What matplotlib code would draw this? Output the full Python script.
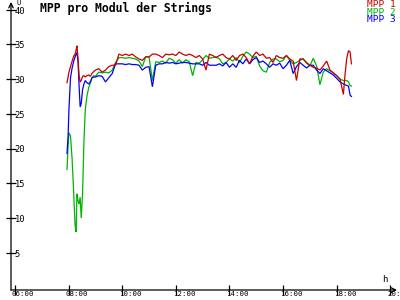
import matplotlib
matplotlib.use("Agg")
import matplotlib.pyplot as plt

# sample times in decimal hours
hours = [7.94, 7.98, 8.01, 8.07, 8.13, 8.19, 8.24, 8.28, 8.31, 8.35, 8.39,
         8.43, 8.47, 8.52, 8.57, 8.62, 8.68, 8.75, 8.81, 8.87, 8.94,
         9.0, 9.125, 9.25, 9.375, 9.5, 9.625, 9.75, 9.875,
         10.0, 10.125, 10.25, 10.375, 10.5, 10.625, 10.75, 10.875,
         11.0, 11.125, 11.25, 11.375, 11.5, 11.625, 11.75, 11.875,
         12.0, 12.125, 12.25, 12.375, 12.5, 12.625, 12.75, 12.875,
         13.0, 13.125, 13.25, 13.375, 13.5, 13.625, 13.75, 13.875,
         14.0, 14.125, 14.25, 14.375, 14.5, 14.625, 14.75, 14.875,
         15.0, 15.125, 15.25, 15.375, 15.5, 15.625, 15.75, 15.875,
         16.0, 16.125, 16.25, 16.375, 16.5, 16.625, 16.75, 16.875,
         17.0, 17.125, 17.25, 17.375, 17.5, 17.625, 17.75, 17.875,
         18.0, 18.125, 18.25, 18.31, 18.375, 18.44, 18.5, 18.55]

mpp1 = [29.5, 30.3, 31.0, 31.8, 32.6, 33.3, 33.6, 34.2, 34.8, 33.0, 30.5,
        29.6, 29.8, 30.4, 30.5, 30.3, 30.5, 30.6, 30.4, 30.8, 31.1,
        31.3, 31.5, 31.0, 31.3, 31.8, 32.0, 32.0, 33.6,
        33.4, 33.6, 33.4, 33.6, 33.2, 32.9, 32.7, 33.2,
        33.2, 33.6, 33.6, 33.4, 33.1, 33.6, 33.5, 33.6,
        33.4, 33.9, 33.6, 33.4, 33.6, 33.4, 33.1, 33.4,
        32.9, 31.3, 33.6, 33.4, 33.1, 33.4, 33.6, 33.1,
        32.9, 33.4, 32.7, 33.4, 33.6, 33.1, 32.2, 33.3,
        33.9, 33.4, 33.6, 33.0, 33.1, 32.4, 33.4, 33.1,
        33.0, 33.4, 32.9, 32.6, 29.8, 32.9, 32.9, 32.4,
        32.0, 31.7, 31.6, 31.3, 31.9, 32.6, 31.3, 30.9,
        30.5, 30.0, 27.8, 30.6, 33.0, 34.1, 33.9, 32.2]

mpp2 = [17.0, 20.5, 22.3, 21.8, 18.5, 13.5, 9.0, 8.0, 13.5, 12.5, 12.0,
        13.0, 10.0, 13.5, 21.0, 25.5, 27.5, 28.8, 29.4, 30.2, 30.5,
        30.4, 31.0, 30.9, 31.0, 30.9, 31.3, 32.4, 33.1,
        33.1, 33.0, 33.1, 33.0, 32.9, 32.6, 31.8, 33.2,
        33.2, 29.8, 32.5, 32.4, 32.6, 32.3, 33.0, 32.8,
        32.3, 32.8, 32.3, 32.8, 32.5, 30.5, 32.4, 32.3,
        32.8, 33.4, 33.0, 33.1, 33.2, 32.9, 32.2, 32.4,
        32.9, 32.6, 33.1, 32.4, 33.3, 33.9, 33.6, 33.1,
        33.3, 31.9, 31.2, 31.0, 32.4, 32.9, 32.9, 32.5,
        32.7, 33.4, 32.7, 32.2, 32.4, 32.7, 32.9, 32.3,
        31.9, 33.0, 31.9, 29.2, 31.0, 31.5, 31.2, 30.9,
        30.5, 30.0, 29.8, 29.8, 29.8, 29.6, 29.1, 29.0]

mpp3 = [19.3, 21.8, 25.5, 30.2, 31.6, 32.6, 33.2, 33.6, 33.8, 32.6, 29.0,
        26.0, 26.5, 28.5, 29.3, 29.8, 29.5, 29.3, 29.6, 30.2, 30.3,
        30.3, 30.5, 30.4, 29.6, 30.2, 30.8, 32.2, 32.2,
        32.2, 32.1, 32.2, 32.1, 32.1, 32.0, 31.3, 31.7,
        31.8, 28.9, 32.0, 32.2, 32.2, 32.4, 32.3, 32.4,
        32.2, 32.3, 32.4, 32.4, 32.3, 32.2, 32.2, 32.2,
        32.0, 32.4, 32.0, 32.0, 32.0, 32.2, 31.9, 32.4,
        31.7, 32.2, 31.7, 32.7, 32.2, 32.9, 32.2, 32.8,
        33.1, 32.4, 32.6, 32.2, 31.7, 32.2, 32.0, 32.3,
        31.5, 32.0, 32.7, 30.8, 31.8, 32.4, 32.0, 31.6,
        32.0, 32.0, 31.3, 30.8, 31.5, 31.2, 30.9, 30.6,
        30.1, 29.6, 29.3, 29.2, 29.1, 29.0, 27.7, 27.5]

series_names = ["MPP 1", "MPP 2", "MPP 3"]
series_colors = ["#c80000", "#00b400", "#0000ff"]
x_ticks = [6, 8, 10, 12, 14, 16, 18, 20]
x_tick_labels = ["06:00", "08:00", "10:00", "12:00", "14:00", "16:00", "18:00", "20:00"]
y_ticks = [5, 10, 15, 20, 25, 30, 35, 40]

mono = ["DejaVu Sans Mono"]

fig = plt.figure(figsize=(4, 3), dpi=100)
ax = fig.add_axes([11 / 400, 10 / 300, 386 / 400, 288 / 300])
ax.set_xlim(5.85, 20.25)
ax.set_ylim(-0.35, 41.1)
ax.axis("off")

# data lines (green, blue, then red on top)
for values, col in [(mpp2, series_colors[1]), (mpp3, series_colors[2]), (mpp1, series_colors[0])]:
    ax.plot(hours, values, color=col, lw=0.9, solid_joinstyle="miter")

# axes with arrows
ax.annotate("", xy=(1, 0), xytext=(0, 0), xycoords="axes fraction",
            arrowprops=dict(arrowstyle="->", lw=0.9, color="black", shrinkA=0, shrinkB=0,
                            mutation_scale=8))
ax.annotate("", xy=(0, 1), xytext=(0, 0), xycoords="axes fraction",
            arrowprops=dict(arrowstyle="->", lw=0.9, color="black", shrinkA=0, shrinkB=0,
                            mutation_scale=8))

x0 = ax.get_xlim()[0]
y0 = ax.get_ylim()[0]
for t, lab in zip(x_ticks, x_tick_labels):
    ax.plot([t], [y0], marker="|", ms=7, mew=0.9, color="black", clip_on=False)
    ax.annotate(lab, xy=(t, y0), xytext=(-2.2, -0.8), textcoords="offset points",
                ha="left", va="top", fontsize=5.3, family=mono, annotation_clip=False)

for v in y_ticks:
    ax.plot([x0], [v], marker="_", ms=7, mew=0.9, color="black", clip_on=False)
    ax.annotate(str(v), xy=(x0, v), xytext=(2.5, -1.0), textcoords="offset points",
                ha="left", va="center", fontsize=6.3, family=mono, annotation_clip=False)

ax.annotate("U", xy=(x0, 41.1), xytext=(4, 1.4), textcoords="offset points",
            fontsize=5, family=mono, ha="left", va="top", annotation_clip=False)
ax.annotate("h", xy=(20.25, y0), xytext=(-11, 4), textcoords="offset points",
            ha="left", va="bottom", fontsize=6.5, family=mono, annotation_clip=False)

fig.text(40 / 400, 1 - 8 / 300, "MPP pro Modul der Strings", fontsize=8.3,
         fontweight="bold", family=mono, ha="left", va="center")

for i, (name, col) in enumerate(zip(series_names, series_colors)):
    fig.text(396 / 400, 1 - (4.5 + 7.7 * i) / 300, name, color=col, fontsize=6.8,
             family=mono, ha="right", va="center")

fig.savefig("out.png", dpi=100, facecolor="white")
